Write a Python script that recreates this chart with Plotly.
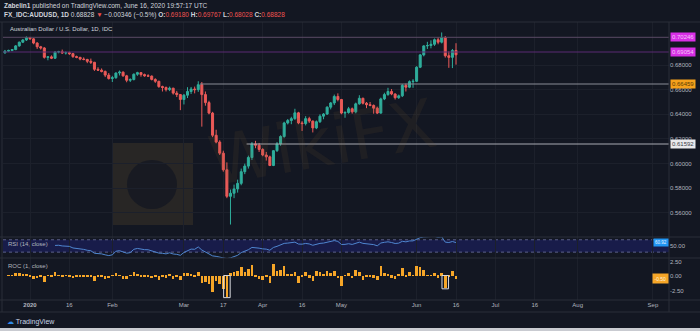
import pandas as pd
import plotly.graph_objects as go
from plotly.subplots import make_subplots

# ---------------- data ----------------
dates = pd.bdate_range("2019-12-23", "2020-06-16") + pd.Timedelta(hours=12)

opens = [0.6898, 0.6912, 0.6918, 0.6925, 0.6955, 0.6985, 0.7003,
         0.7022, 0.7012, 0.6978, 0.6948, 0.6938, 0.6862, 0.6866, 0.6855, 0.6905, 0.6908, 0.6898, 0.6900,
         0.6892, 0.6868, 0.6862, 0.6848, 0.6845, 0.6830, 0.6822, 0.6765, 0.6758, 0.6748, 0.6718,
         0.6690, 0.6697, 0.6735, 0.6742, 0.6712, 0.6676, 0.6682, 0.6725, 0.6738, 0.6722, 0.6712, 0.6710,
         0.6683, 0.6668, 0.6625, 0.6618, 0.6600, 0.6612, 0.6572, 0.6560,
         0.6520, 0.6555, 0.6585, 0.6605, 0.6600, 0.6640, 0.6560, 0.6495, 0.6410, 0.6230, 0.6175, 0.6085,
         0.5950, 0.5735, 0.5760, 0.5795, 0.5840, 0.5935, 0.5980, 0.6050, 0.6160, 0.6150,
         0.6115, 0.6070, 0.6055, 0.5985, 0.6105, 0.6160, 0.6220, 0.6330, 0.6350, 0.6365, 0.6412, 0.6330,
         0.6325, 0.6365, 0.6345, 0.6290, 0.6340, 0.6385, 0.6402, 0.6458, 0.6492, 0.6545,
         0.6520, 0.6410, 0.6415, 0.6445, 0.6420, 0.6485, 0.6530, 0.6490, 0.6478, 0.6472, 0.6450, 0.6410,
         0.6525, 0.6560, 0.6585, 0.6565, 0.6535, 0.6550, 0.6635, 0.6620, 0.6665,
         0.6668, 0.6782, 0.6882, 0.6955, 0.6958, 0.6968, 0.7005, 0.6985, 0.7022, 0.6875, 0.6862, 0.69180]

highs = [0.6922, 0.6924, 0.6930, 0.6962, 0.6990, 0.7010, 0.7032,
         0.7028, 0.7018, 0.6985, 0.6955, 0.6945, 0.6872, 0.6878, 0.6912, 0.6915, 0.6925, 0.6910, 0.6908,
         0.6898, 0.6876, 0.6866, 0.6862, 0.6850, 0.6852, 0.6825, 0.6782, 0.6772, 0.6755, 0.6735,
         0.6712, 0.6740, 0.6755, 0.6748, 0.6720, 0.6692, 0.6732, 0.6745, 0.6742, 0.6730, 0.6725, 0.6715,
         0.6692, 0.6672, 0.6632, 0.6625, 0.6625, 0.6615, 0.6590, 0.6565,
         0.6565, 0.6620, 0.6622, 0.6625, 0.6668, 0.6662, 0.6585, 0.6510, 0.6420, 0.6275, 0.6190, 0.6105,
         0.6010, 0.5790, 0.5830, 0.5870, 0.5960, 0.6000, 0.6065, 0.6175, 0.6185, 0.6168,
         0.6125, 0.6095, 0.6065, 0.6110, 0.6175, 0.6230, 0.6340, 0.6362, 0.6380, 0.6445, 0.6420, 0.6345,
         0.6385, 0.6380, 0.6350, 0.6350, 0.6400, 0.6410, 0.6465, 0.6500, 0.6560, 0.6570,
         0.6525, 0.6425, 0.6460, 0.6455, 0.6495, 0.6555, 0.6535, 0.6500, 0.6500, 0.6480, 0.6462,
         0.6535, 0.6575, 0.6615, 0.6605, 0.6570, 0.6560, 0.6645, 0.6650, 0.6675, 0.6685,
         0.6790, 0.6890, 0.6960, 0.6988, 0.7000, 0.7015, 0.7025, 0.7064, 0.7035, 0.6910, 0.6930, 0.69767]

lows = [0.6893, 0.6905, 0.6912, 0.6920, 0.6948, 0.6978, 0.6995,
        0.7005, 0.6968, 0.6930, 0.6925, 0.6852, 0.6838, 0.6848, 0.6850, 0.6895, 0.6890, 0.6885, 0.6882,
        0.6858, 0.6855, 0.6838, 0.6838, 0.6815, 0.6808, 0.6752, 0.6752, 0.6740, 0.6702, 0.6682,
        0.6662, 0.6688, 0.6715, 0.6705, 0.6660, 0.6662, 0.6675, 0.6712, 0.6705, 0.6705, 0.6705, 0.6675,
        0.6655, 0.6615, 0.6585, 0.6585, 0.6588, 0.6560, 0.6540, 0.6434,
        0.6480, 0.6532, 0.6565, 0.6570, 0.6582, 0.6300, 0.6470, 0.6400, 0.6215, 0.6165, 0.6070, 0.5935,
        0.5720, 0.5506, 0.5720, 0.5765, 0.5825, 0.5915, 0.5960, 0.6030, 0.6125, 0.6095,
        0.6060, 0.6025, 0.5980, 0.5980, 0.6095, 0.6145, 0.6210, 0.6318, 0.6320, 0.6355, 0.6320, 0.6265,
        0.6310, 0.6330, 0.6253, 0.6280, 0.6330, 0.6360, 0.6395, 0.6440, 0.6475, 0.6505,
        0.6400, 0.6372, 0.6405, 0.6405, 0.6408, 0.6478, 0.6480, 0.6450, 0.6465, 0.6405, 0.6402,
        0.6405, 0.6515, 0.6550, 0.6555, 0.6520, 0.6525, 0.6540, 0.6585, 0.6612, 0.6615,
        0.6662, 0.6775, 0.6870, 0.6930, 0.6935, 0.6955, 0.6968, 0.6975, 0.6860, 0.6777, 0.6775, 0.68028]

closes = [0.6912, 0.6918, 0.6925, 0.6955, 0.6985, 0.7003, 0.7022,
          0.7012, 0.6978, 0.6948, 0.6938, 0.6862, 0.6866, 0.6855, 0.6905, 0.6908, 0.6898, 0.6900, 0.6892,
          0.6868, 0.6862, 0.6848, 0.6845, 0.6830, 0.6822, 0.6765, 0.6758, 0.6748, 0.6718, 0.6690,
          0.6697, 0.6735, 0.6742, 0.6712, 0.6676, 0.6682, 0.6725, 0.6738, 0.6722, 0.6712, 0.6710, 0.6683,
          0.6668, 0.6625, 0.6618, 0.6600, 0.6612, 0.6572, 0.6560, 0.6520,
          0.6555, 0.6585, 0.6605, 0.6600, 0.6640, 0.6560, 0.6495, 0.6410, 0.6230, 0.6175, 0.6085, 0.5950,
          0.5735, 0.5760, 0.5795, 0.5840, 0.5935, 0.5980, 0.6050, 0.6160, 0.6150, 0.6115,
          0.6070, 0.6055, 0.5985, 0.6105, 0.6160, 0.6220, 0.6330, 0.6350, 0.6365, 0.6412, 0.6330, 0.6325,
          0.6365, 0.6345, 0.6290, 0.6340, 0.6385, 0.6402, 0.6458, 0.6492, 0.6545, 0.6520,
          0.6410, 0.6415, 0.6445, 0.6420, 0.6485, 0.6530, 0.6490, 0.6478, 0.6472, 0.6450, 0.6410,
          0.6525, 0.6560, 0.6585, 0.6565, 0.6535, 0.6550, 0.6635, 0.6620, 0.6665, 0.6668,
          0.6782, 0.6882, 0.6955, 0.6958, 0.6968, 0.7005, 0.6985, 0.7022, 0.6875, 0.6862, 0.69174, 0.68828]

# horizontal levels drawn on the chart
level_prices = [0.70246, 0.69054, 0.66459, 0.61592]
level_starts = [None, None, "2020-03-09", "2020-03-26"]
level_line_colors = ["#5a4a66", "#5b2a72", "#8a8d96", "#a9abb2"]
level_label_bg = ["#d82fe6", "#d82fe6", "#f5a11c", "#e9e9ec"]
level_label_fg = ["#f3c6f7", "#f3c6f7", "#5a3a00", "#3a3d46"]

price_ticks = [0.56, 0.58, 0.60, 0.62, 0.64, 0.66, 0.68]
time_tick_dates = ["2020-01-01", "2020-01-16", "2020-02-03", "2020-03-02", "2020-03-17", "2020-04-01",
                   "2020-04-16", "2020-05-01", "2020-06-01", "2020-06-16", "2020-07-01", "2020-07-16",
                   "2020-08-03", "2020-09-01"]
time_tick_text = ["<b>2020</b>", "16", "Feb", "Mar", "17", "Apr", "16", "May", "Jun", "16", "Jul", "16",
                  "Aug", "Sep"]
highlight_days = ["2020-03-18", "2020-06-11"]

assert len(dates) == len(opens) == len(highs) == len(lows) == len(closes)

# ---------------- indicators ----------------
c = pd.Series(closes)
roc = (c.pct_change() * 100.0)
delta = c.diff()
gain = delta.clip(lower=0)
loss = -delta.clip(upper=0)
avg_g = gain.ewm(alpha=1 / 14, adjust=False, min_periods=14).mean()
avg_l = loss.ewm(alpha=1 / 14, adjust=False, min_periods=14).mean()
rsi = 100 - 100 / (1 + avg_g / avg_l)

# ---------------- figure ----------------
BG = "#131722"
GRID = "#1c202b"
BORDER = "#2a2e39"
TXT = "#b2b5be"
FONT = "Liberation Sans"

fig = make_subplots(rows=3, cols=1, shared_xaxes=True, vertical_spacing=0,
                    row_heights=[215, 21, 42])

fig.add_trace(go.Candlestick(
    x=dates, open=opens, high=highs, low=lows, close=closes,
    increasing=dict(line=dict(color="#2fae9c", width=1), fillcolor="#2fae9c"),
    decreasing=dict(line=dict(color="#eb5a58", width=1), fillcolor="#eb5a58"),
    whiskerwidth=0, showlegend=False, hoverinfo="skip"), row=1, col=1)

fig.add_trace(go.Scatter(x=dates, y=rsi, mode="lines", line=dict(color="#4f86d0", width=1),
                         showlegend=False, hoverinfo="skip"), row=2, col=1)

fig.add_trace(go.Bar(x=dates, y=roc, marker=dict(color="#f6a628", line=dict(width=0)),
                     width=0.72 * 86400000, showlegend=False, hoverinfo="skip"), row=3, col=1)

x_range = ["2019-12-20 23:00", "2020-09-08 00:00"]
fig.update_xaxes(type="date", range=x_range, rangebreaks=[dict(bounds=["sat", "mon"])],
                 tickvals=[pd.Timestamp(d) + pd.Timedelta(hours=12) for d in time_tick_dates],
                 ticktext=time_tick_text, showgrid=True, gridcolor=GRID, gridwidth=1,
                 zeroline=False, showline=False, ticks="", rangeslider_visible=False,
                 tickfont=dict(family=FONT, size=6, color=TXT))
fig.update_xaxes(showticklabels=False, row=1, col=1)
fig.update_xaxes(showticklabels=False, row=2, col=1)
fig.update_xaxes(showticklabels=True, row=3, col=1)

fig.update_yaxes(side="right", range=[0.54051, 0.71487], tickvals=price_ticks,
                 ticktext=[f"{v:.5f}" for v in price_ticks], showgrid=True, gridcolor=GRID,
                 zeroline=False, ticks="", tickfont=dict(family=FONT, size=6, color=TXT), row=1, col=1)
fig.update_yaxes(side="right", range=[11, 79], tickvals=[50], ticktext=["50.00"], showgrid=False,
                 zeroline=False, ticks="", tickfont=dict(family=FONT, size=6, color=TXT), row=2, col=1)
fig.update_yaxes(side="right", range=[-4.14, 3.10], tickvals=[-2.5, 0, 2.5],
                 ticktext=["-2.50", "0.00", "2.50"], showgrid=False, zeroline=False, ticks="",
                 tickfont=dict(family=FONT, size=6, color=TXT), row=3, col=1)

shapes = []
ann = []

# RSI band and dotted bounds
shapes.append(dict(type="rect", xref="x2 domain", yref="y2", x0=0, x1=1, y0=30, y1=70,
                   fillcolor="#181c4a", line=dict(width=0), layer="below"))
for lvl in (30, 70):
    shapes.append(dict(type="line", xref="x2 domain", yref="y2", x0=0, x1=1, y0=lvl, y1=lvl,
                       line=dict(color="#5c6088", width=1, dash="dot"), layer="below"))

# horizontal price levels
for p, s, lc, bg, fg in zip(level_prices, level_starts, level_line_colors, level_label_bg, level_label_fg):
    if s is None:
        shapes.append(dict(type="line", xref="x domain", yref="y", x0=0, x1=1, y0=p, y1=p,
                           line=dict(color=lc, width=1)))
    else:
        shapes.append(dict(type="line", xref="x", yref="y", x0=s, x1=x_range[1], y0=p, y1=p,
                           line=dict(color=lc, width=1)))
    ann.append(dict(xref="paper", yref="y", x=1, y=p, xanchor="left", yanchor="middle", xshift=1,
                    text=f"{p:.5f}", showarrow=False, bgcolor=bg, borderpad=1,
                    font=dict(family=FONT, size=6, color=fg)))

# highlighted ROC bars
for d in highlight_days:
    i = list(dates.normalize()).index(pd.Timestamp(d))
    t = dates[i]
    shapes.append(dict(type="rect", xref="x3", yref="y3",
                       x0=t - pd.Timedelta(hours=22), x1=t + pd.Timedelta(hours=22),
                       y0=0.08, y1=max(roc[i] - 0.12, -4.1), line=dict(color="#d8d9de", width=1),
                       fillcolor="rgba(0,0,0,0)"))

# pane borders
def py(p):
    return (300 - p) / 278.0

for yy in (1.0, py(237), py(258), 0.0, py(312)):
    shapes.append(dict(type="line", xref="paper", yref="paper", x0=-3 / 666, x1=697 / 666, y0=yy, y1=yy,
                       line=dict(color=BORDER, width=1)))
for xx in (-1 / 666, 1.0):
    shapes.append(dict(type="line", xref="paper", yref="paper", x0=xx, x1=xx, y0=py(312), y1=1.0,
                       line=dict(color=BORDER, width=1)))

# watermark
shapes.append(dict(type="rect", xref="paper", yref="paper", x0=(112 - 3) / 666, x1=(193 - 3) / 666,
                   y0=py(225), y1=py(143), fillcolor="rgba(120,95,50,0.22)", line=dict(width=0),
                   layer="below"))
shapes.append(dict(type="circle", xref="paper", yref="paper", x0=(127 - 3) / 666, x1=(177 - 3) / 666,
                   y0=py(209), y1=py(160), fillcolor="rgba(19,23,34,0.75)", line=dict(width=0),
                   layer="below"))
ann.append(dict(xref="paper", yref="paper", x=(322 - 3) / 666, y=py(142), text="WikiFX", showarrow=False,
                textangle=-10, font=dict(family="DejaVu Sans", size=68, color="rgba(120,90,50,0.12)")))

# bottom strip
shapes.append(dict(type="rect", xref="paper", yref="paper", x0=-3 / 666, x1=697 / 666, y0=py(331),
                   y1=py(328), fillcolor="#c9cbd1", line=dict(width=0)))

# header texts
ann.append(dict(xref="paper", yref="paper", x=0, y=py(6), xanchor="left", yanchor="middle", xshift=-1,
                showarrow=False, font=dict(family=FONT, size=6.5, color="#d1d4dc"),
                text="<b>Zabelin1</b> published on TradingView.com, June 16, 2020 19:57:17 UTC"))
red = "#ef5350"
ann.append(dict(xref="paper", yref="paper", x=0, y=py(15), xanchor="left", yanchor="middle", xshift=-1,
                showarrow=False, font=dict(family=FONT, size=6.5, color="#d1d4dc"),
                text=(f"<b>FX_IDC:AUDUSD, 1D</b> {closes[-1]:.5f} <span style='color:{red}'>▼</span> "
                      f"−0.00346 (−0.5%) <b>O:</b><span style='color:{red}'>{opens[-1]:.5f}</span> "
                      f"<b>H:</b><span style='color:{red}'>{highs[-1]:.5f}</span> "
                      f"<b>L:</b><span style='color:{red}'>{lows[-1]:.5f}</span> "
                      f"<b>C:</b><span style='color:{red}'>{closes[-1]:.5f}</span>")))
ann.append(dict(xref="paper", yref="paper", x=(8 - 3) / 666, y=py(29), xanchor="left", yanchor="middle",
                showarrow=False, font=dict(family=FONT, size=6, color="#d1d4dc"),
                text="Australian Dollar / U.S. Dollar, 1D, IDC"))
ann.append(dict(xref="paper", yref="paper", x=(6 - 3) / 666, y=py(244), xanchor="left", yanchor="middle",
                showarrow=False, font=dict(family=FONT, size=6, color=TXT), text="RSI (14, close)"))
ann.append(dict(xref="paper", yref="paper", x=(6 - 3) / 666, y=py(266), xanchor="left", yanchor="middle",
                showarrow=False, font=dict(family=FONT, size=6, color=TXT), text="ROC (1, close)"))
ann.append(dict(xref="paper", yref="paper", x=(5 - 3) / 666, y=py(322), xanchor="left", yanchor="middle",
                showarrow=False, font=dict(family=FONT, size=7, color="#c8d4e6"),
                text="<span style='color:#2f8ae8'>☁</span> TradingView"))

# value boxes on indicator panes
ann.append(dict(xref="paper", yref="y2", x=1, y=float(rsi.iloc[-1]), xanchor="right", yanchor="middle",
                text=f"{rsi.iloc[-1]:.2f}", showarrow=False, bgcolor="#2196f3", borderpad=1,
                font=dict(family=FONT, size=4.5, color="#e6f2ff")))
ann.append(dict(xref="paper", yref="y3", x=1, y=float(roc.iloc[-1]), xanchor="right", yanchor="middle",
                text=f"{roc.iloc[-1]:.2f}", showarrow=False, bgcolor="#f6a628", borderpad=1.5,
                font=dict(family=FONT, size=5, color="#fff3dc")))

fig.update_layout(width=700, height=331, autosize=False,
                  margin=dict(l=3, r=31, t=22, b=31),
                  paper_bgcolor=BG, plot_bgcolor=BG, shapes=shapes, annotations=ann,
                  bargap=0, boxgap=0.2, showlegend=False, hovermode=False,
                  font=dict(family=FONT, color=TXT))

fig.write_html("out.html", config={"displayModeBar": False})
